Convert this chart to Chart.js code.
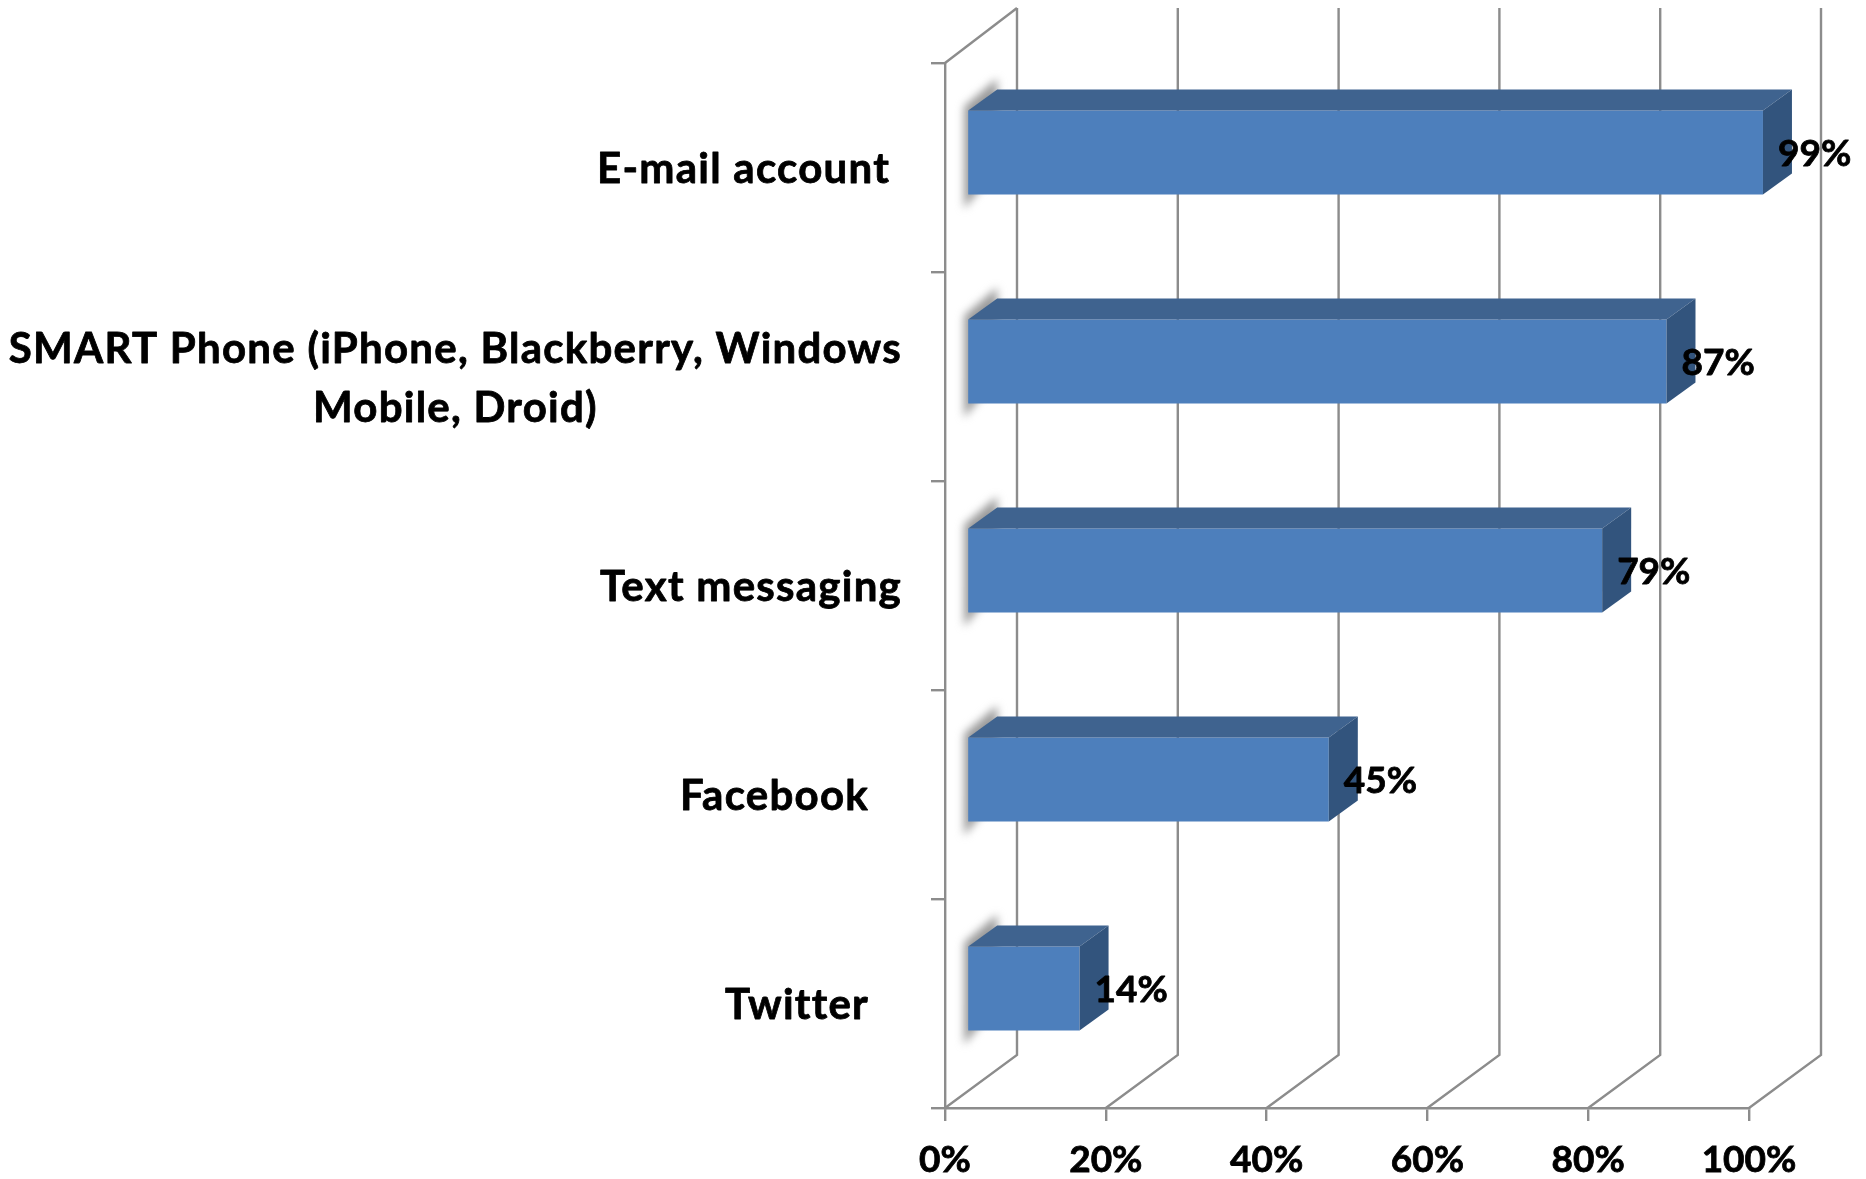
<!DOCTYPE html>
<html>
<head>
<meta charset="utf-8">
<title>Chart</title>
<script src="https://cdn.jsdelivr.net/npm/chart.js@4"></script>
<style>
  html, body { margin: 0; padding: 0; background: #fff; }
  canvas { display: block; }
</style>
</head>
<body>
<canvas id="grafico" width="1866" height="1179"></canvas>
<script>
const categories = [
  ["E-mail account"],
  ["SMART Phone (iPhone, Blackberry, Windows", "Mobile, Droid)"],
  ["Text messaging"],
  ["Facebook"],
  ["Twitter"]
];
const values = [99, 87, 79, 45, 14];
const xTickValues = [0, 20, 40, 60, 80, 100];

const labelGaps = [55, 43, 43, 76, 76];

const GREY = "#8c8c8c";
const WALL = { dx: 72, dy: -53, topDy: -55 };
const BAR_OFFSET = { dx: 22, dy: -15 };
const BAR_DEPTH = { dx: 29, dy: -21 };

function poly(ctx, pts, fill) {
  ctx.beginPath();
  pts.forEach((p, i) => (i ? ctx.lineTo(p[0], p[1]) : ctx.moveTo(p[0], p[1])));
  ctx.closePath();
  ctx.fillStyle = fill;
  ctx.fill();
}

function boldText(ctx, text, x, y) {
  ctx.strokeText(text, x, y);
  ctx.fillText(text, x, y);
}

const box3d = {
  id: "box3d",
  beforeDatasetsDraw(chart) {
    const { ctx, chartArea: a, scales } = chart;

    // back wall and floor
    ctx.save();
    ctx.strokeStyle = GREY;
    ctx.lineWidth = 2.4;
    xTickValues.forEach((v) => {
      const x = scales.x.getPixelForValue(v);
      ctx.beginPath();
      ctx.moveTo(x, a.bottom);
      ctx.lineTo(x + WALL.dx, a.bottom + WALL.dy);
      ctx.lineTo(x + WALL.dx, a.top + WALL.topDy);
      ctx.stroke();
    });
    ctx.beginPath();
    ctx.moveTo(a.left, a.top);
    ctx.lineTo(a.left + WALL.dx, a.top + WALL.topDy);
    ctx.stroke();
    ctx.restore();

    // soft shadow at the far end of each bar
    const meta = chart.getDatasetMeta(0);
    ctx.save();
    ctx.filter = "blur(4px)";
    meta.data.forEach((bar) => {
      const x0 = bar.base + BAR_OFFSET.dx;
      const top = bar.y + BAR_OFFSET.dy - bar.height / 2;
      const bottom = top + bar.height;
      poly(ctx, [
        [x0 - 4, top - 4],
        [x0 + 29, top - 32],
        [x0 + 29, bottom - 26],
        [x0 - 4, bottom + 14]
      ], "#9a9a9a");
    });
    ctx.restore();

    ctx.save();
    ctx.translate(BAR_OFFSET.dx, BAR_OFFSET.dy);
  },
  afterDatasetsDraw(chart) {
    const { ctx } = chart;
    chart.getDatasetMeta(0).data.forEach((bar) => {
      const top = bar.y - bar.height / 2;
      const bottom = bar.y + bar.height / 2;
      const d = BAR_DEPTH;
      poly(ctx, [
        [bar.base, top],
        [bar.base + d.dx, top + d.dy],
        [bar.x + d.dx, top + d.dy],
        [bar.x, top]
      ], "#3f638f");
      poly(ctx, [
        [bar.x, top],
        [bar.x + d.dx, top + d.dy],
        [bar.x + d.dx, bottom + d.dy],
        [bar.x, bottom]
      ], "#32547d");
    });
    ctx.restore();
  },
  afterDraw(chart) {
    const { ctx, chartArea: a, scales } = chart;
    ctx.save();
    ctx.fillStyle = "#000";
    ctx.strokeStyle = "#000";
    ctx.lineWidth = 0.8;
    ctx.lineJoin = "round";
    ctx.textBaseline = "middle";

    // category labels
    ctx.font = "bold 42px Lato";
    ctx.letterSpacing = "1.25px";
    categories.forEach((lines, i) => {
      const cy = scales.y.getPixelForTick(i) + 2;
      const right = a.left - labelGaps[i];
      const widest = Math.max(...lines.map((l) => ctx.measureText(l).width));
      ctx.textAlign = "center";
      lines.forEach((line, j) => {
        const y = cy + (j - (lines.length - 1) / 2) * 59;
        boldText(ctx, line, right - widest / 2, y);
      });
    });

    // value labels
    ctx.font = "bold 37px Lato";
    ctx.letterSpacing = "0px";
    ctx.textAlign = "left";
    chart.getDatasetMeta(0).data.forEach((bar, i) => {
      boldText(ctx, values[i] + "%", bar.x + BAR_OFFSET.dx + 15, bar.y + BAR_OFFSET.dy + 2);
    });
    ctx.restore();
  }
};

new Chart(document.getElementById("grafico"), {
  type: "bar",
  data: {
    labels: categories,
    datasets: [{
      data: values,
      backgroundColor: "#4d7fbc",
      borderWidth: 0,
      clip: false,
      categoryPercentage: 1,
      barPercentage: 0.402
    }]
  },
  plugins: [box3d],
  options: {
    indexAxis: "y",
    responsive: false,
    animation: false,
    layout: { padding: { top: 63, right: 117, left: 0, bottom: 0 } },
    plugins: { legend: { display: false }, tooltip: { enabled: false } },
    scales: {
      x: {
        min: 0,
        max: 100,
        afterFit(scale) { scale.height = 71; },
        afterBuildTicks(scale) { scale.ticks = xTickValues.map((value) => ({ value })); },
        border: { color: GREY, width: 2.4 },
        grid: { drawOnChartArea: false, drawTicks: true, tickLength: 13, color: GREY, lineWidth: 2.4 },
        ticks: {
          padding: 17,
          color: "#000",
          textStrokeColor: "#000",
          textStrokeWidth: 0.8,
          font: { family: "Lato", size: 37, weight: "bold" },
          maxRotation: 0,
          callback: (v) => v + "%"
        }
      },
      y: {
        afterFit(scale) { scale.width = 945; },
        border: { color: GREY, width: 2.4 },
        grid: { drawOnChartArea: false, drawTicks: true, tickLength: 14, color: GREY, lineWidth: 2.4 },
        ticks: { display: false }
      }
    }
  }
});
</script>
</body>
</html>
